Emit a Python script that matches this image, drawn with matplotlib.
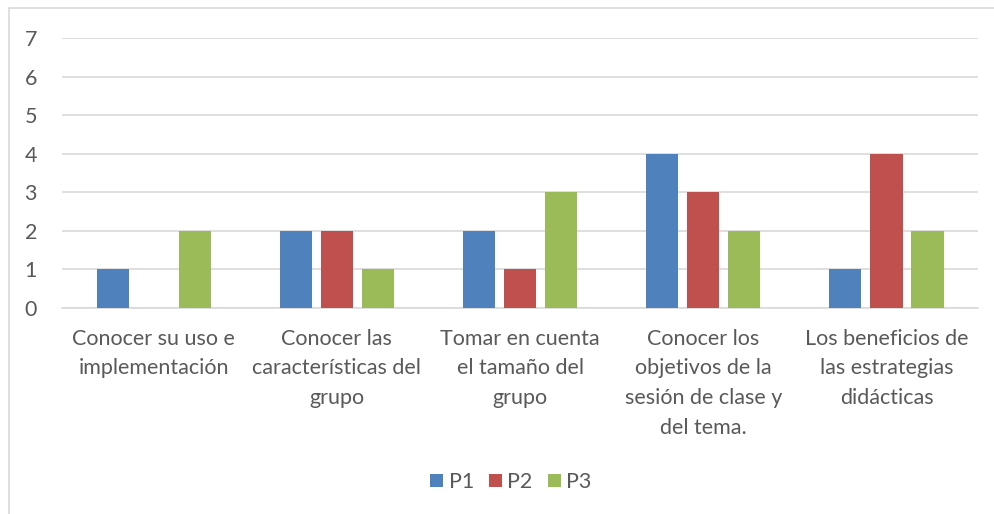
import numpy as np
import matplotlib.pyplot as plt
from matplotlib.patches import Rectangle

plt.rcParams['font.family'] = ['Lato', 'DejaVu Sans']

categories = ['Conocer su uso e\nimplementación',
              'Conocer las\ncaracterísticas del\ngrupo',
              'Tomar en cuenta\nel tamaño del\ngrupo',
              'Conocer los\nobjetivos de la\nsesión de clase y\ndel tema.',
              'Los beneficios de\nlas estrategias\ndidácticas']
p1 = [1, 2, 2, 4, 1]
p2 = [0, 2, 1, 3, 4]
p3 = [2, 1, 3, 2, 2]
series = [('P1', p1, '#4F81BD'), ('P2', p2, '#C0504D'), ('P3', p3, '#9BBB59')]

text_color = '#595959'
grid_color = '#D9D9D9'
fs = 15.5

fig = plt.figure(figsize=(9.94, 5.14), dpi=100)
ax = fig.add_axes([0.0624, 0.4008, 0.9216, 0.5252])

x = np.arange(len(categories))
width = 0.175
step = 0.224
for i, (name, vals, col) in enumerate(series):
    ax.bar(x + (i - 1) * step, vals, width, color=col, label=name, zorder=3)

ax.set_xlim(-0.5, 4.5)
ax.set_ylim(0, 7)
ax.set_yticks(range(0, 8))
ax.yaxis.grid(True, color=grid_color, linewidth=1.2, zorder=0)
ax.set_axisbelow(True)
for s in ['top', 'right', 'left']:
    ax.spines[s].set_visible(False)
ax.spines['bottom'].set_color(grid_color)
ax.spines['bottom'].set_linewidth(1.2)
ax.tick_params(axis='y', length=0, pad=18, labelsize=fs, labelcolor=text_color)
ax.tick_params(axis='x', length=0, pad=15, labelsize=fs, labelcolor=text_color)
ax.set_xticks(x)
ax.set_xticklabels(categories, linespacing=1.6)

leg = fig.legend(loc='center', bbox_to_anchor=(0.514, 0.062), ncol=3, frameon=False,
                 fontsize=fs, handlelength=0.6, handleheight=0.6,
                 handletextpad=0.25, columnspacing=0.7)
for t in leg.get_texts():
    t.set_color(text_color)

# chart border
fig.patches.append(Rectangle((9 / 994, -0.1), 1.2, 1.1 - 8 / 514,
                             transform=fig.transFigure, fill=False,
                             edgecolor='#D9D9D9', linewidth=1.2))

fig.savefig('out.png', dpi=100)
